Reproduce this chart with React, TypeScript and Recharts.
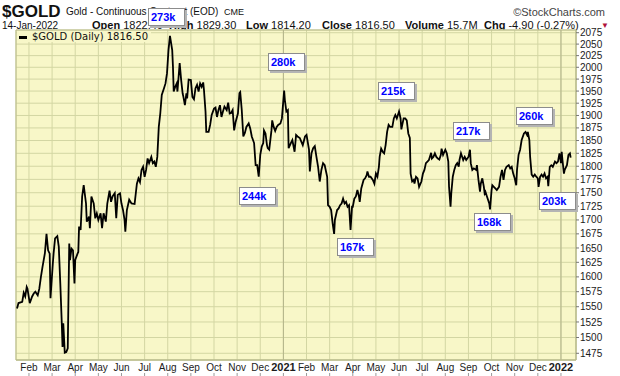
import React from 'react';
import {
  LineChart,
  Line,
  XAxis,
  YAxis,
  CartesianGrid,
  ReferenceLine,
  ReferenceArea,
} from 'recharts';

type Close = [string, number];

// daily closes (month-day, price)
const closes2020: Close[] = [
  ['01-16', 1547], ['01-18', 1556], ['01-23', 1558], ['01-25', 1573], ['01-27', 1567], ['01-29', 1583], ['01-30', 1580],
  ['02-02', 1556], ['02-05', 1567], ['02-07', 1572], ['02-09', 1575], ['02-12', 1569], ['02-14', 1580], ['02-16', 1600],
  ['02-18', 1617], ['02-21', 1641], ['02-23', 1675], ['02-25', 1646], ['02-27', 1640], ['02-28', 1564],
  ['03-02', 1623], ['03-03', 1640], ['03-05', 1667], ['03-08', 1671], ['03-10', 1652], ['03-12', 1589], ['03-14', 1523],
  ['03-15', 1485], ['03-16', 1523], ['03-18', 1476], ['03-20', 1477], ['03-22', 1483], ['03-24', 1658], ['03-25', 1629],
  ['03-27', 1649], ['03-29', 1646], ['03-31', 1589],
  ['04-01', 1629], ['04-04', 1640], ['04-05', 1643], ['04-06', 1688], ['04-08', 1682], ['04-10', 1743], ['04-12', 1764],
  ['04-15', 1730], ['04-16', 1697], ['04-19', 1706], ['04-20', 1685], ['04-22', 1743], ['04-25', 1730], ['04-27', 1703],
  ['04-29', 1712],
  ['05-01', 1700], ['05-04', 1712], ['05-06', 1685], ['05-08', 1712], ['05-11', 1697], ['05-13', 1730], ['05-16', 1754],
  ['05-18', 1733], ['05-20', 1743], ['05-23', 1749], ['05-25', 1703], ['05-27', 1746], ['05-30', 1749],
  ['06-01', 1730], ['06-03', 1718], ['06-05', 1700], ['06-06', 1679], ['06-08', 1718], ['06-11', 1737], ['06-14', 1730],
  ['06-18', 1729], ['06-21', 1767], ['06-23', 1777], ['06-25', 1770], ['06-27', 1793], ['06-29', 1799],
  ['07-01', 1780], ['07-03', 1793], ['07-05', 1815], ['07-07', 1806], ['07-10', 1818], ['07-12', 1806], ['07-14', 1809],
  ['07-16', 1799], ['07-18', 1818], ['07-20', 1877], ['07-22', 1904], ['07-24', 1942], ['07-27', 1956], ['07-29', 1966],
  ['07-31', 1987],
  ['08-02', 2037], ['08-04', 2068], ['08-07', 2037], ['08-08', 2001], ['08-09', 1949], ['08-11', 1959], ['08-13', 1966],
  ['08-14', 1949], ['08-17', 2009], ['08-19', 1973], ['08-21', 1945], ['08-22', 1938], ['08-24', 1921], ['08-26', 1945],
  ['08-27', 1935], ['08-29', 1974],
  ['09-01', 1973], ['09-03', 1938], ['09-05', 1933], ['09-07', 1956], ['09-09', 1963], ['09-11', 1949], ['09-13', 1966],
  ['09-15', 1959], ['09-17', 1968], ['09-18', 1952], ['09-20', 1908], ['09-21', 1867], ['09-24', 1867], ['09-26', 1881],
  ['09-28', 1901],
  ['10-01', 1914], ['10-03', 1916], ['10-05', 1897], ['10-07', 1911], ['10-09', 1921], ['10-11', 1897], ['10-13', 1908],
  ['10-15', 1918], ['10-18', 1911], ['10-20', 1926], ['10-22', 1904], ['10-24', 1905], ['10-26', 1911], ['10-28', 1870],
  ['10-30', 1887],
  ['11-02', 1904], ['11-04', 1946], ['11-05', 1948], ['11-07', 1911], ['11-09', 1858], ['11-11', 1865], ['11-13', 1877],
  ['11-16', 1884], ['11-18', 1874], ['11-20', 1858], ['11-23', 1845], ['11-25', 1802], ['11-27', 1802], ['11-29', 1780],
  ['12-01', 1822], ['12-03', 1838], ['12-05', 1845], ['12-06', 1870], ['12-08', 1864], ['12-10', 1841], ['12-11', 1835],
  ['12-13', 1832], ['12-16', 1870], ['12-17', 1890], ['12-19', 1877], ['12-21', 1869], ['12-23', 1877], ['12-25', 1881],
  ['12-28', 1884], ['12-30', 1894],
];

const closes2021: Close[] = [
  ['01-02', 1951], ['01-03', 1931], ['01-05', 1908], ['01-07', 1911], ['01-08', 1835], ['01-11', 1845], ['01-13', 1851],
  ['01-16', 1828], ['01-18', 1861], ['01-20', 1858], ['01-23', 1855], ['01-25', 1848], ['01-27', 1841], ['01-30', 1858],
  ['02-01', 1861], ['02-04', 1832], ['02-05', 1790], ['02-07', 1825], ['02-09', 1835], ['02-11', 1839], ['02-13', 1818],
  ['02-15', 1799], ['02-17', 1771], ['02-19', 1793], ['02-21', 1806], ['02-23', 1802], ['02-26', 1780], ['02-27', 1727],
  ['03-01', 1724], ['03-03', 1718], ['03-05', 1694], ['03-07', 1675], ['03-08', 1700], ['03-11', 1718], ['03-13', 1721],
  ['03-15', 1727], ['03-17', 1730], ['03-19', 1739], ['03-21', 1730], ['03-23', 1733], ['03-25', 1724], ['03-27', 1727],
  ['03-29', 1682], ['03-31', 1724],
  ['04-01', 1724], ['04-03', 1739], ['04-05', 1743], ['04-07', 1755], ['04-09', 1743], ['04-10', 1733], ['04-12', 1758],
  ['04-15', 1774], ['04-17', 1777], ['04-19', 1783], ['04-20', 1790], ['04-22', 1780], ['04-24', 1780], ['04-27', 1774],
  ['04-29', 1767],
  ['05-01', 1786], ['05-03', 1780], ['05-05', 1799], ['05-06', 1818], ['05-08', 1834], ['05-10', 1828], ['05-12', 1825],
  ['05-14', 1841], ['05-16', 1867], ['05-18', 1881], ['05-20', 1877], ['05-23', 1877], ['05-25', 1894], ['05-27', 1901],
  ['05-29', 1894],
  ['06-01', 1908], ['06-03', 1894], ['06-04', 1872], ['06-06', 1887], ['06-07', 1894], ['06-09', 1894], ['06-11', 1890],
  ['06-13', 1864], ['06-15', 1855], ['06-16', 1786], ['06-18', 1771], ['06-20', 1774], ['06-21', 1767], ['06-23', 1780],
  ['06-25', 1777], ['06-27', 1761], ['06-30', 1771],
  ['07-02', 1786], ['07-04', 1793], ['07-06', 1806], ['07-08', 1809], ['07-10', 1812], ['07-13', 1826], ['07-14', 1815],
  ['07-16', 1818], ['07-18', 1825], ['07-20', 1818], ['07-22', 1815], ['07-24', 1813], ['07-26', 1822], ['07-27', 1834],
  ['07-29', 1822],
  ['08-01', 1832], ['08-03', 1825], ['08-05', 1809], ['08-06', 1761], ['08-08', 1724], ['08-09', 1749], ['08-11', 1780],
  ['08-13', 1793], ['08-15', 1802], ['08-17', 1806], ['08-19', 1799], ['08-20', 1812], ['08-22', 1825], ['08-25', 1812],
  ['08-27', 1818], ['08-29', 1812],
  ['09-01', 1818], ['09-03', 1832], ['09-04', 1806], ['09-06', 1793], ['09-08', 1796], ['09-11', 1793], ['09-12', 1802],
  ['09-14', 1774], ['09-16', 1752], ['09-17', 1767], ['09-19', 1777], ['09-21', 1761], ['09-22', 1749], ['09-23', 1752],
  ['09-25', 1743], ['09-28', 1730], ['09-29', 1719],
  ['10-01', 1755], ['10-02', 1764], ['10-04', 1761], ['10-06', 1758], ['10-08', 1755], ['10-11', 1761], ['10-13', 1780],
  ['10-15', 1793], ['10-17', 1774], ['10-19', 1793], ['10-21', 1799], ['10-24', 1802], ['10-26', 1796], ['10-28', 1799],
  ['10-30', 1786],
  ['11-01', 1777], ['11-03', 1764], ['11-04', 1793], ['11-06', 1822], ['11-08', 1832], ['11-10', 1851], ['11-13', 1864],
  ['11-15', 1867], ['11-17', 1861], ['11-18', 1867], ['11-20', 1851], ['11-21', 1818], ['11-23', 1784], ['11-25', 1780],
  ['11-27', 1784], ['11-29', 1780],
  ['12-01', 1777], ['12-02', 1761], ['12-04', 1780], ['12-06', 1784], ['12-08', 1780], ['12-10', 1786], ['12-12', 1777],
  ['12-14', 1780], ['12-15', 1762], ['12-17', 1799], ['12-19', 1802], ['12-21', 1799], ['12-24', 1809], ['12-26', 1806],
  ['12-28', 1809], ['12-30', 1825],
];

const closes2022: Close[] = [
  ['01-01', 1806], ['01-02', 1828], ['01-03', 1812], ['01-05', 1786], ['01-06', 1793], ['01-09', 1802], ['01-11', 1822],
  ['01-13', 1825], ['01-14', 1816.5],
];

// month ticks, Feb 2020 = 0
const monthLabels = [
  'Feb', 'Mar', 'Apr', 'May', 'Jun', 'Jul', 'Aug', 'Sep', 'Oct', 'Nov', 'Dec', '2021',
  'Feb', 'Mar', 'Apr', 'May', 'Jun', 'Jul', 'Aug', 'Sep', 'Oct', 'Nov', 'Dec', '2022',
];

const priceTicks = [
  1475, 1500, 1525, 1550, 1575, 1600, 1625, 1650, 1675, 1700, 1725, 1750, 1775,
  1800, 1825, 1850, 1875, 1900, 1925, 1950, 1975, 2000, 2025, 2050, 2075,
];

// volume callouts at the swing points
const pivotVolumes = ['273k', '280k', '244k', '167k', '215k', '217k', '168k', '260k', '203k'];
const pivotSpots = [
  [148, 8], [268, 53], [239, 187], [337, 238], [378, 82], [453, 122], [474, 213], [516, 107], [539, 192],
];

const FONT = '"Liberation Sans", Arial, sans-serif';
const PLOT_BG = '#F8F7C8';
const GRID = '#D3D6A3';
const BORDER = '#B9BB8C';
const X_DOMAIN: [number, number] = [-0.56, 23.65];
const Y_DOMAIN: [number, number] = [1464.5, 2081];

function monthPos(year: number, md: string): number {
  const [m, d] = md.split('-').map(Number);
  const dim = new Date(year, m, 0).getDate();
  return (year - 2020) * 12 + (m - 2) + (d - 1) / dim;
}

const series = [
  ...closes2020.map(([d, c]) => ({ t: monthPos(2020, d), close: c })),
  ...closes2021.map(([d, c]) => ({ t: monthPos(2021, d), close: c })),
  ...closes2022.map(([d, c]) => ({ t: monthPos(2022, d), close: c })),
];

function MonthTick(props: any) {
  const { x, y, payload } = props;
  const label = monthLabels[payload.value];
  const isYear = /^\d{4}$/.test(label);
  return (
    <g>
      <text
        x={x}
        y={y + 11}
        textAnchor="middle"
        fontFamily={FONT}
        fontSize={isYear ? 11 : 10}
        fontWeight={isYear ? 700 : 400}
        fill="#1b1b1b"
      >
        {label}
      </text>
      <line x1={x} x2={x} y1={y + 13} y2={y + 16} stroke="#9a9a9a" />
    </g>
  );
}

const txt = (left: number, top: number, extra: React.CSSProperties = {}): React.CSSProperties => ({
  position: 'absolute',
  left,
  top,
  fontFamily: FONT,
  fontSize: 11,
  color: '#111',
  whiteSpace: 'nowrap',
  lineHeight: '12px',
  ...extra,
});

export default function App() {
  return (
    <div style={{ position: 'absolute', left: 0, top: 0, width: 620, height: 376, background: '#fff', overflow: 'hidden' }}>
      {/* title block */}
      <div style={txt(2, 5, { fontSize: 17, fontWeight: 700, lineHeight: '14px' })}>$GOLD</div>
      <div style={txt(66, 6, { fontSize: 10 })}>Gold - Continuous Contract (EOD)</div>
      <div style={txt(224, 6, { fontSize: 9 })}>CME</div>
      <div style={txt(490, 6, { color: '#444', width: 115, textAlign: 'right' })}>©StockCharts.com</div>

      <div style={txt(2, 20, { fontSize: 10, lineHeight: '11px' })}>14-Jan-2022</div>
      <div style={txt(92, 19)}><b>Open</b> 1822.40</div>
      <div style={txt(169, 19)}><b>High</b> 1829.30</div>
      <div style={txt(246, 19)}><b>Low</b> 1814.20</div>
      <div style={txt(322, 19)}><b>Close</b> 1816.50</div>
      <div style={txt(405, 19)}><b>Volume</b> 15.7M</div>
      <div style={txt(484, 19)}><b>Chg</b> -4.90 (-0.27%)</div>
      <div style={txt(601, 21, { color: '#b0103a', fontSize: 8, lineHeight: '9px' })}>▼</div>

      <LineChart width={620} height={376} data={series} margin={{ top: 30, right: 0, bottom: 0, left: 16 }}>
        <CartesianGrid stroke={GRID} fill={PLOT_BG} fillOpacity={1} />
        <XAxis
          dataKey="t"
          type="number"
          domain={X_DOMAIN}
          allowDataOverflow
          ticks={monthLabels.map((_, i) => i)}
          interval={0}
          height={16}
          tickLine={false}
          tickSize={0}
          tickMargin={0}
          axisLine={{ stroke: BORDER }}
          tick={<MonthTick />}
        />
        <YAxis
          orientation="right"
          type="number"
          scale="log"
          domain={Y_DOMAIN}
          allowDataOverflow
          ticks={priceTicks}
          interval={0}
          width={44}
          tickSize={3}
          tickMargin={1}
          axisLine={{ stroke: BORDER }}
          tickLine={{ stroke: '#777' }}
          tick={{ fontSize: 10, fill: '#1b1b1b', fontFamily: FONT }}
        />
        <ReferenceLine x={11} stroke="#B3B58A" />
        <ReferenceLine x={23} stroke="#B3B58A" />
        <Line
          type="linear"
          dataKey="close"
          stroke="#000"
          strokeWidth={1.8}
          dot={false}
          isAnimationActive={false}
        />
        <ReferenceArea
          x1={X_DOMAIN[0]}
          x2={X_DOMAIN[1]}
          y1={Y_DOMAIN[0]}
          y2={Y_DOMAIN[1]}
          fill="none"
          stroke={BORDER}
          ifOverflow="visible"
        />
      </LineChart>

      {/* legend */}
      <div
        style={txt(17, 31, {
          fontFamily: '"DejaVu Sans", Verdana, sans-serif',
          fontSize: 10,
          background: PLOT_BG,
          padding: '0 3px 0 2px',
          lineHeight: '11px',
        })}
      >
        <span style={{ display: 'inline-block', width: 8, height: 3, background: '#000', verticalAlign: 'middle', marginRight: 5 }} />
        $GOLD (Daily) 1816.50
      </div>

      {pivotVolumes.map((v, i) => (
        <div
          key={v + i}
          style={{
            position: 'absolute',
            left: pivotSpots[i][0],
            top: pivotSpots[i][1],
            width: 33,
            height: 16,
            background: '#fff',
            border: '1px solid #8c8c8c',
            boxShadow: '2px 2px 0 #b4b4b4',
            fontFamily: FONT,
            fontWeight: 700,
            fontSize: 11,
            lineHeight: '16px',
            color: '#0000ff',
            paddingLeft: 2,
            boxSizing: 'content-box',
          }}
        >
          {v}
        </div>
      ))}
    </div>
  );
}
